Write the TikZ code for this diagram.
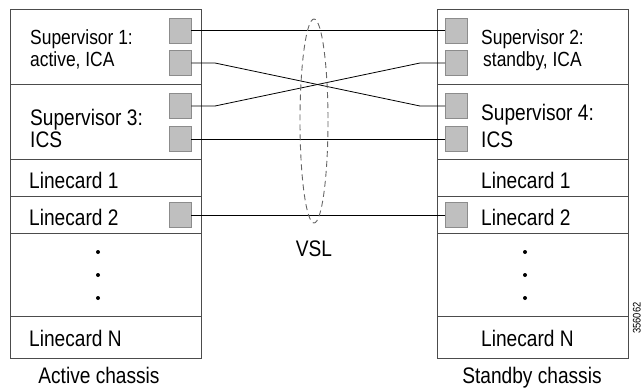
\documentclass[tikz,border=0pt]{standalone}
\usepackage{fontspec}
\setmainfont[FakeStretch=0.85]{Liberation Sans}
\usetikzlibrary{calc,positioning}
\definecolor{portgrey}{gray}{0.75}
\definecolor{edgegrey}{gray}{0.55}
\definecolor{framegrey}{gray}{0.3}

\begin{document}
\begin{tikzpicture}[x=1pt,y=-1pt]

\tikzset{port/.style={fill=portgrey,draw=edgegrey,line width=0.8pt,inner sep=0pt,minimum width=22pt,minimum height=25pt},
slot/.style={draw=framegrey,line width=1pt},
link/.style={line width=0.8pt},
lbl/.style={anchor=base west,inner sep=0pt,font=\fontsize{22.5}{24}\selectfont},
sublbl/.style={anchor=base west,inner sep=0pt,font=\fontsize{20.5}{22}\selectfont},
foot/.style={anchor=base,inner sep=0pt,font=\fontsize{22.5}{24}\selectfont}}

\useasboundingbox (0,0) rectangle (643,389);

% Chassis frames
\foreach \x in {10,437} {
  \draw[slot] (\x,9) rectangle ++(191,349);
  \foreach \y in {84,159,196,233,316} \draw[slot] (\x,\y) -- ++(191,0);
  \foreach \y in {252,275,298} \fill ($(\x,\y) + (88,0)$) circle (2pt); % dots
}

% Active chassis labels
\node[sublbl] (sup1) at (30,44) {Supervisor 1:};
\node[sublbl] (sup1r) at (30,66) {active, ICA};
\node[lbl] (sup3) at (30,125) {Supervisor 3:};
\node[lbl] (sup3r) at (30,147) {ICS};
\node[lbl] (alc1) at (29,188) {Linecard 1};
\node[lbl] (alc2) at (29,225) {Linecard 2};
\node[lbl] (alcN) at (29,346) {Linecard N};
\node[foot] (active) at (99,383) {Active chassis};

% Standby chassis labels
\node[sublbl] (sup2) at (481,44) {Supervisor 2:};
\node[sublbl] (sup2r) at (483,66) {standby, ICA};
\node[lbl] (sup4) at (481,120) {Supervisor 4:};
\node[lbl] (sup4r) at (481,147) {ICS};
\node[lbl] (slc1) at (481,188) {Linecard 1};
\node[lbl] (slc2) at (481,225) {Linecard 2};
\node[lbl] (slcN) at (481,346) {Linecard N};
\node[foot] (standby) at (532,383) {Standby chassis};

% Ports
\foreach \n/\y in {1/30.5,2/63,3/106,4/139,5/215} {
  \node[port] (a\n) at (180,\y) {};
  \node[port] (s\n) at (456.5,\y) {};
}

% Links
\coordinate (ka2) at (215,63); \coordinate (ks3) at (420,106);
\coordinate (ka3) at (215,106); \coordinate (ks2) at (420,63);
\draw[link] (a1) -- (s1); \draw[link] (a4) -- (s4); \draw[link] (a5) -- (s5);
\draw[link] (a2.east) -- (ka2) -- (ks3) -- (s3.west);
\draw[link] (a3.east) -- (ka3) -- (ks2) -- (s2.west);

% VSL bundle
\draw[black!60,dash pattern=on 6pt off 4pt,line width=0.9pt] (314,121) ellipse (14 and 102);
\node[foot] (vsl) at (314,256) {VSL};

\node[rotate=90,anchor=base,inner sep=0pt,font=\fontsize{11}{13}\selectfont] (figno) at (640.5,318) {356062};

\end{tikzpicture}
\end{document}
